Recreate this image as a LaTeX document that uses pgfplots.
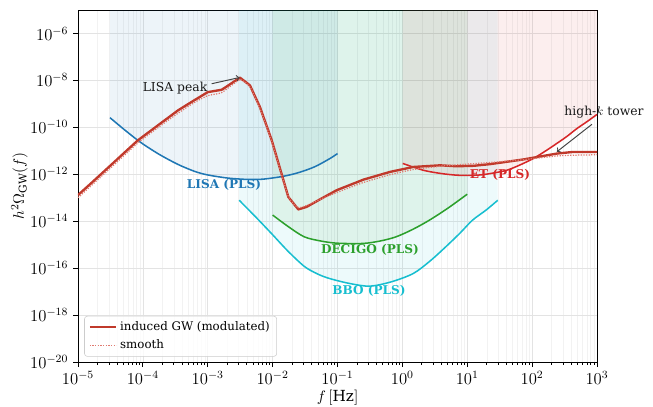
\documentclass[border=0pt]{standalone}
\usepackage{fontspec}
\setmainfont{DejaVu Serif}
\usepackage{pgfplots}
\pgfplotsset{compat=1.18}
\usepackage{pgfplotstable}
\usepgfplotslibrary{fillbetween}

\definecolor{tabblue}{HTML}{1F77B4}
\definecolor{tabgreen}{HTML}{2CA02C}
\definecolor{tabred}{HTML}{D62728}
\definecolor{tabcyan}{HTML}{17BECF}
\definecolor{gwred}{HTML}{C0392B}
\definecolor{gwdot}{HTML}{E07A70}
\definecolor{anno}{HTML}{444444}

% log10(f)  log10(h^2 Omega)
\pgfplotstableread{
lf lo
-5.000 -12.89
-4.800 -12.39
-4.500 -11.63
-4.300 -11.12
-4.075 -10.55
-3.900 -10.19
-3.750 -9.88
-3.459 -9.28
-3.250 -8.92
-3.000 -8.50
-2.785 -8.40
-2.503 -7.885
-2.350 -8.21
-2.195 -9.14
-2.014 -10.55
-1.758 -12.97
-1.604 -13.50
-1.475 -13.39
-1.250 -13.04
-1.012 -12.68
-0.600 -12.23
-0.190 -11.90
0.168 -11.69
0.580 -11.62
0.837 -11.66
1.100 -11.64
1.350 -11.57
1.864 -11.37
2.379 -11.12
2.630 -11.05
3.000 -11.05
}\gwmod

\pgfplotstableread{
lf lo
-5.000 -13.00
-4.500 -11.74
-4.075 -10.66
-3.750 -9.98
-3.459 -9.40
-3.200 -8.93
-3.000 -8.65
-2.785 -8.52
-2.503 -7.97
-2.350 -8.28
-2.195 -9.20
-2.014 -10.60
-1.758 -12.95
-1.604 -13.42
-1.475 -13.33
-1.250 -13.05
-1.012 -12.78
-0.600 -12.35
-0.190 -12.02
0.168 -11.80
0.580 -11.66
0.837 -11.60
1.350 -11.50
1.864 -11.38
2.379 -11.22
2.630 -11.19
3.000 -11.17
}\gwsmooth

\pgfplotstableread{
lf lo
-4.507 -9.59
-4.250 -10.18
-4.025 -10.66
-3.750 -11.15
-3.460 -11.58
-3.200 -11.88
-3.000 -12.03
-2.700 -12.16
-2.400 -12.22
-2.150 -12.21
-1.840 -12.09
-1.600 -11.93
-1.350 -11.68
-1.116 -11.33
-1.000 -11.12
}\lisa

\pgfplotstableread{
lf lo
-2.515 -13.11
-2.272 -13.79
-2.020 -14.52
-1.763 -15.28
-1.506 -15.94
-1.300 -16.26
-1.116 -16.45
-0.807 -16.66
-0.499 -16.77
-0.164 -16.58
0.168 -16.23
0.426 -15.70
0.670 -15.09
0.888 -14.51
1.080 -13.96
1.289 -13.53
1.470 -13.11
}\bbo

\pgfplotstableread{
lf lo
-2.000 -13.74
-1.750 -14.25
-1.510 -14.67
-1.250 -14.85
-1.000 -14.94
-0.610 -14.95
-0.350 -14.85
-0.100 -14.67
0.160 -14.35
0.415 -13.96
0.700 -13.45
1.000 -12.85
}\decigo

\pgfplotstableread{
lf lo
0.005 -11.54
0.322 -11.83
0.600 -11.97
0.837 -12.04
1.000 -12.05
1.197 -12.03
1.400 -11.95
1.608 -11.83
1.800 -11.62
2.018 -11.33
2.200 -11.02
2.379 -10.69
2.540 -10.38
2.687 -10.06
2.850 -9.75
3.000 -9.45
}\et

\pgfplotsset{
  table/logt/.style={x expr=10^(\thisrow{lf}), y expr=10^(\thisrow{lo})},
  table/topt/.style={x expr=10^(\thisrow{lf}), y expr=1e-5},
}

\begin{document}
\begin{tikzpicture}
\begin{axis}[
  set layers,
  scale only axis,
  width=373.7pt, height=253.4pt,
  xmode=log, ymode=log,
  xmin=1e-5, xmax=1e3,
  ymin=1e-20, ymax=1e-5,
  xtick={1e-5,1e-4,1e-3,1e-2,1e-1,1e0,1e1,1e2,1e3},
  ytick={1e-20,1e-18,1e-16,1e-14,1e-12,1e-10,1e-8,1e-6},
  yminorticks=false,
  grid=both,
  yminorgrids=false,
  major grid style={black!11, line width=0.5pt},
  minor grid style={black!5, line width=0.4pt},
  tick align=outside,
  xtick pos=bottom, ytick pos=left,
  major tick length=3.5pt, minor tick length=2pt,
  every tick/.style={black, line width=0.6pt},
  axis line style={black, line width=0.6pt},
  tick label style={font=\fontsize{12}{14}\selectfont},
  label style={font=\fontsize{11}{13}\selectfont},
  xlabel={$f\,[\mathrm{Hz}]$},
  ylabel={$h^2\Omega_{\mathrm{GW}}(f)$},
  xlabel shift=-3pt,
  ylabel shift=-5pt,
  clip mode=individual,
  legend style={at={(0.012,0.015)}, anchor=south west, draw=black!20,
    rounded corners=2pt, fill=white, fill opacity=0.8, text opacity=1,
    font=\fontsize{8.5}{10}\selectfont, row sep=1pt,
    inner xsep=3pt, inner ysep=2pt},
  legend cell align=left,
  legend image code/.code={\draw[#1] (0pt,0pt) -- (19pt,0pt);},
]
% detector curves and their top boundaries
\addplot[name path=lisa, tabblue, line width=1.1pt, smooth, forget plot] table[logt] {\lisa};
\addplot[name path=lisatop, draw=none, forget plot] table[topt] {\lisa};
\addplot[tabblue, fill opacity=0.08, draw=none, forget plot] fill between[of=lisa and lisatop];

\addplot[name path=bbo, tabcyan, line width=1.1pt, smooth, forget plot] table[logt] {\bbo};
\addplot[name path=bbotop, draw=none, forget plot] table[topt] {\bbo};
\addplot[tabcyan, fill opacity=0.08, draw=none, forget plot] fill between[of=bbo and bbotop];

\addplot[name path=dec, tabgreen, line width=1.1pt, smooth, forget plot] table[logt] {\decigo};
\addplot[name path=dectop, draw=none, forget plot] table[topt] {\decigo};
\addplot[tabgreen, fill opacity=0.08, draw=none, forget plot] fill between[of=dec and dectop];

\addplot[name path=et, tabred, line width=1.1pt, smooth, forget plot] table[logt] {\et};
\addplot[name path=ettop, draw=none, forget plot] table[topt] {\et};
\addplot[tabred, fill opacity=0.08, draw=none, forget plot] fill between[of=et and ettop];

% induced GW
\addplot[gwred, line width=1.7pt, line join=round] table[logt] {\gwmod};
\addlegendentry{induced GW (modulated)}
\addplot[gwdot, line width=0.9pt, densely dotted, smooth, tension=0.3] table[logt] {\gwsmooth};
\addlegendentry{smooth}

% labels
\node[text=tabblue, font=\fontsize{8.7}{10}\selectfont\bfseries] at (axis cs:1.78e-3,3.7e-13) {LISA (PLS)};
\node[text=tabgreen, font=\fontsize{8.7}{10}\selectfont\bfseries] at (axis cs:0.316,5.9e-16) {DECIGO (PLS)};
\node[text=tabcyan, font=\fontsize{8.7}{10}\selectfont\bfseries] at (axis cs:0.306,1.05e-17) {BBO (PLS)};
\node[text=tabred, font=\fontsize{8.7}{10}\selectfont\bfseries] at (axis cs:32,9.1e-13) {ET (PLS)};

\draw[anno, line width=0.7pt, ->] (axis cs:1.15e-3,7.2e-9) -- (axis cs:3.1e-3,1.33e-8);
\node[text=black!90, font=\fontsize{8.9}{10}\selectfont] at (axis cs:3.13e-4,4.6e-9) {LISA peak};
\draw[anno, line width=0.7pt, ->] (axis cs:837,1.35e-10) -- (axis cs:241,9.1e-12);
\node[text=black!90, font=\fontsize{8.9}{10}\selectfont] at (axis cs:1283,4.4e-10) {high-$k$ tower};

\coordinate (LL) at (rel axis cs:0,0);
\coordinate (UR) at (rel axis cs:1,1);
\end{axis}
\pgfresetboundingbox
\path[use as bounding box] ([shift={(-56.16pt,-32.4pt)}]LL) rectangle ([shift={(40.32pt,7.2pt)}]UR);
\end{tikzpicture}
\end{document}
